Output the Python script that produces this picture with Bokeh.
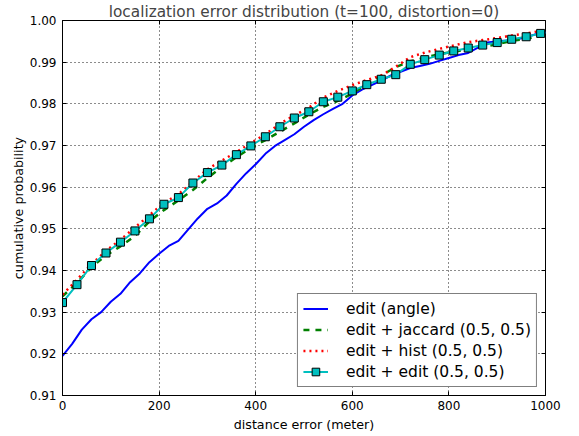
from bokeh.plotting import figure
from bokeh.models import (Range1d, FixedTicker, PrintfTickFormatter, LinearAxis,
                          Legend, LegendItem, ColumnDataSource, CustomJSTickFormatter)
from bokeh.embed import file_html
from bokeh.resources import INLINE

# ---------------- data ----------------
title_text = "localization error distribution (t=100, distortion=0)"
x_label = "distance error (meter)"
y_label = "cumulative probability"
x_ticks = [0, 200, 400, 600, 800, 1000]
y_ticks = [0.91, 0.92, 0.93, 0.94, 0.95, 0.96, 0.97, 0.98, 0.99, 1.00]

angle_x = [0, 20, 40, 60, 80, 100, 120, 140, 160, 180, 200, 220, 240, 260, 280,
           300, 320, 340, 360, 380, 400, 420, 440, 460, 480, 500, 520, 540, 560,
           580, 600, 620, 640, 660, 680, 700, 720, 740, 760, 780, 800, 820, 840,
           860, 880, 900, 920, 940, 960, 980, 1000]
angle_y = [0.9195, 0.9224, 0.9258, 0.9283, 0.9300, 0.9325, 0.9344, 0.9372, 0.9393,
           0.9420, 0.9440, 0.9459, 0.9471, 0.9498, 0.9525, 0.9548, 0.9561, 0.9580,
           0.9608, 0.9633, 0.9655, 0.9680, 0.9699, 0.9713, 0.9727, 0.9745, 0.9761,
           0.9775, 0.9788, 0.9800, 0.9820, 0.9834, 0.9845, 0.9856, 0.9868, 0.9877,
           0.9886, 0.9891, 0.9896, 0.9903, 0.9910, 0.9917, 0.9922, 0.9935, 0.9947,
           0.9950, 0.9952, 0.9955, 0.9960, 0.9967, 0.9972]

combo_x = [0, 30, 60, 90, 120, 150, 180, 210, 240, 270, 300, 330, 360, 390, 420,
           450, 480, 510, 540, 570, 600, 630, 660, 690, 720, 750, 780, 810, 840,
           870, 900, 930, 960, 990, 1000]
jaccard_y = [0.9338, 0.9370, 0.9408, 0.9436, 0.9458, 0.9483, 0.9518, 0.9545, 0.9568,
             0.9593, 0.9622, 0.9648, 0.9672, 0.9694, 0.9713, 0.9733, 0.9753, 0.9774,
             0.9793, 0.9807, 0.9825, 0.9846, 0.9868, 0.9888, 0.9902, 0.9911, 0.9919,
             0.9925, 0.9931, 0.9937, 0.9943, 0.9951, 0.9956, 0.9963, 0.9965]
hist_y = [0.9342, 0.9378, 0.9415, 0.9447, 0.9474, 0.9503, 0.9533, 0.9562, 0.9583,
          0.9613, 0.9643, 0.9664, 0.9684, 0.9706, 0.9727, 0.9752, 0.9772, 0.9791,
          0.9815, 0.9831, 0.9845, 0.9857, 0.9868, 0.9889, 0.9912, 0.9923, 0.9932,
          0.9940, 0.9948, 0.9953, 0.9958, 0.9964, 0.9969, 0.9975, 0.9977]
edit_y = [0.9323, 0.9366, 0.9412, 0.9442, 0.9468, 0.9495, 0.9524, 0.9559, 0.9575,
          0.9610, 0.9635, 0.9653, 0.9678, 0.9699, 0.9721, 0.9745, 0.9766, 0.9781,
          0.9805, 0.9816, 0.9831, 0.9846, 0.9859, 0.9870, 0.9895, 0.9906, 0.9917,
          0.9927, 0.9934, 0.9941, 0.9947, 0.9955, 0.9961, 0.9969, 0.9971]

labels = ["edit (angle)", "edit + jaccard (0.5, 0.5)",
          "edit + hist (0.5, 0.5)", "edit + edit (0.5, 0.5)"]

# ---------------- figure ----------------
FONT = "DejaVu Sans"
p = figure(width=579, height=436, x_range=Range1d(0, 1000), y_range=Range1d(0.91, 1.0),
           output_backend="svg", toolbar_location=None, title=title_text,
           min_border_left=62, min_border_right=34, min_border_top=19,
           min_border_bottom=41)
p.background_fill_color = "white"
p.border_fill_color = "white"
p.outline_line_color = "black"
p.outline_line_width = 1

p.title.text_font = FONT
p.title.text_font_size = "15.3px"
p.title.text_font_style = "normal"
p.title.align = "center"
p.title.standoff = 0
p.title.offset = 0

for ax in (p.xaxis[0], p.yaxis[0]):
    ax.major_label_text_font = FONT
    ax.major_label_text_font_size = "12px"
    ax.major_label_text_color = "black"
    ax.axis_label_text_font = FONT
    ax.axis_label_text_font_size = "12.7px"
    ax.axis_label_text_font_style = "normal"
    ax.axis_label_text_color = "black"
    ax.major_tick_in = 4
    ax.major_tick_out = 0
    ax.minor_tick_in = 0
    ax.minor_tick_out = 0
    ax.axis_line_color = "black"
    ax.major_tick_line_color = "black"

p.xaxis[0].ticker = FixedTicker(ticks=x_ticks)
p.yaxis[0].ticker = FixedTicker(ticks=y_ticks)
p.yaxis[0].formatter = PrintfTickFormatter(format="%.2f")
p.xaxis[0].axis_label = x_label
p.yaxis[0].axis_label = y_label
p.xaxis[0].major_label_standoff = 5
p.yaxis[0].major_label_standoff = 6
p.xaxis[0].axis_label_standoff = 4
p.yaxis[0].axis_label_standoff = 1

blank = CustomJSTickFormatter(code="return ''")
top_ax = LinearAxis(ticker=FixedTicker(ticks=x_ticks), formatter=blank,
                    major_tick_in=4, major_tick_out=0, minor_tick_in=0, minor_tick_out=0,
                    axis_line_color=None, major_label_standoff=0)
right_ax = LinearAxis(ticker=FixedTicker(ticks=y_ticks), formatter=blank,
                      major_tick_in=4, major_tick_out=0, minor_tick_in=0, minor_tick_out=0,
                      axis_line_color=None, major_label_standoff=0)
p.add_layout(top_ax, "above")
p.add_layout(right_ax, "right")

p.xgrid.ticker = FixedTicker(ticks=x_ticks)
p.ygrid.ticker = FixedTicker(ticks=y_ticks)
for g in (p.xgrid[0], p.ygrid[0]):
    g.grid_line_color = "black"
    g.grid_line_dash = "1 3"
    g.grid_line_width = 1
    g.grid_line_alpha = 0.9

# ---------------- series ----------------
src_angle = ColumnDataSource(dict(x=angle_x, y=angle_y))
src_combo = ColumnDataSource(dict(x=combo_x, jac=jaccard_y, hist=hist_y, edit=edit_y))
src_mark = ColumnDataSource(dict(x=combo_x[:-1], y=edit_y[:-1]))

r_angle = p.line("x", "y", source=src_angle, line_color="#0000ff", line_width=2)
r_jac = p.line("x", "jac", source=src_combo, line_color="#008000", line_width=2.5,
               line_dash="6 6")
r_hist = p.line("x", "hist", source=src_combo, line_color="#ff0000", line_width=2.5,
                line_dash="2 4")
r_edit = p.line("x", "edit", source=src_combo, line_color="#00bfbf", line_width=2)
r_mark = p.scatter("x", "y", source=src_mark, marker="square", size=8,
                   fill_color="#00bfbf", line_color="black", line_width=1)

legend = Legend(items=[LegendItem(label=labels[0], renderers=[r_angle]),
                       LegendItem(label=labels[1], renderers=[r_jac]),
                       LegendItem(label=labels[2], renderers=[r_hist]),
                       LegendItem(label=labels[3], renderers=[r_edit, r_mark])],
                location="bottom_right")
legend.label_text_font = FONT
legend.label_text_font_size = "15.5px"
legend.label_text_color = "black"
legend.border_line_color = "black"
legend.border_line_width = 1
legend.background_fill_color = "white"
legend.background_fill_alpha = 1
legend.padding = 5
legend.spacing = 2
legend.label_height = 19
legend.glyph_height = 19
legend.glyph_width = 25
legend.label_standoff = 18
legend.margin = 8
p.add_layout(legend, "center")

open("out.html", "w").write(file_html(p, INLINE))
